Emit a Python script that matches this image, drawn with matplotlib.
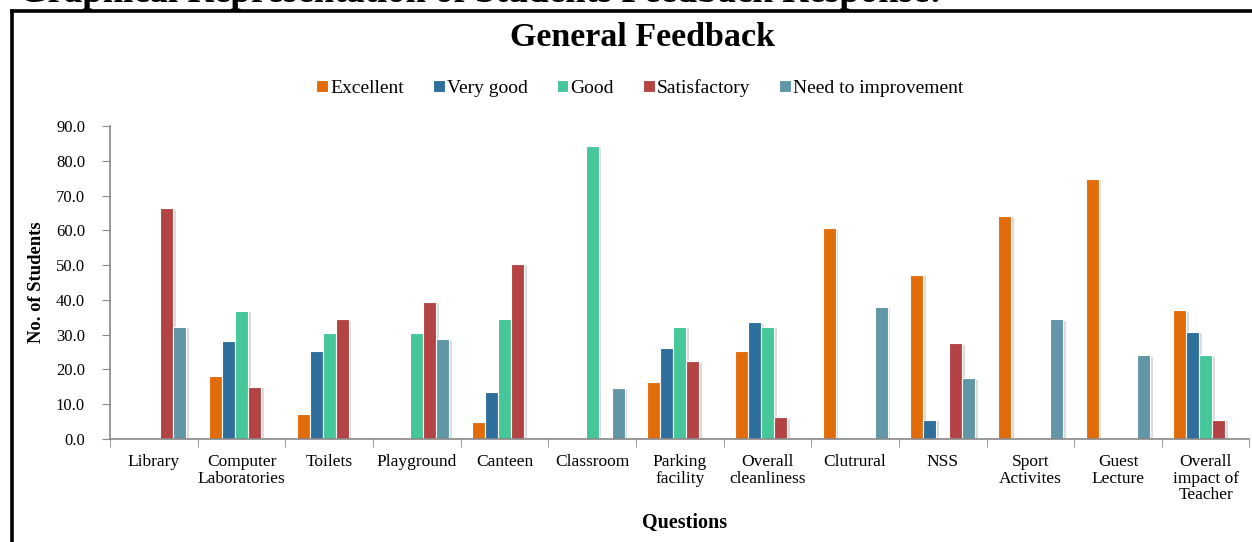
import matplotlib.pyplot as plt
import matplotlib.patheffects as pe
from matplotlib.lines import Line2D
from matplotlib.patches import Patch
import numpy as np

plt.rcParams['font.family'] = ['Liberation Serif', 'DejaVu Serif']

questions = ["Library", "Computer\nLaboratories", "Toilets", "Playground", "Canteen",
             "Classroom", "Parking\nfacility", "Overall\ncleanliness", "Clutrural", "NSS",
             "Sport\nActivites", "Guest\nLecture", "Overall\nimpact of\nTeacher"]
series = ["Excellent", "Very good", "Good", "Satisfactory", "Need to improvement"]

excellent = [0, 18.0, 7.1, 0, 5.0, 0, 16.5, 25.4, 60.6, 47.3, 64.2, 74.7, 37.0]
very_good = [0, 28.3, 25.4, 0, 13.6, 0, 26.1, 33.6, 0, 5.5, 0, 0, 30.8]
good = [0, 36.9, 30.4, 30.4, 34.4, 84.2, 32.3, 32.3, 0, 0, 0, 0, 24.1]
satisfactory = [66.3, 15.0, 34.4, 39.5, 50.2, 0, 22.4, 6.2, 0, 27.5, 0, 0, 5.5]
need_improve = [32.3, 0, 0, 28.7, 0, 14.6, 0, 0, 38.0, 17.5, 34.4, 24.1, 0]

values = [excellent, very_good, good, satisfactory, need_improve]
colors = ["#E36C0A", "#2E6F9E", "#45C79A", "#B44444", "#6096A6"]

fig = plt.figure(figsize=(12.52, 5.42), dpi=100)
ax = fig.add_axes([0.0879, 0.190, 0.9101, 0.5775])

x = np.arange(len(questions))
w = 0.148
shadow = [pe.SimplePatchShadow(offset=(2, -1), shadow_rgbFace="#999999", alpha=0.35), pe.Normal()]
for i, (vals, c) in enumerate(zip(values, colors)):
    bars = ax.bar(x + (i - 2) * w, vals, width=w, color=c, edgecolor="white", linewidth=0.8)
    for b in bars:
        if b.get_height() > 0:
            b.set_path_effects(shadow)
        else:
            b.set_visible(False)

ax.set_xlim(-0.5, len(questions) - 0.5)
ax.set_ylim(0, 90)
ax.set_yticks(np.arange(0, 91, 10))
ax.set_yticklabels([f"{v:.1f}" for v in np.arange(0, 91, 10)], fontsize=12)
ax.set_xticks(x)
ax.set_xticklabels(questions, fontsize=12.5, linespacing=1.05)
ax.set_xticks(np.arange(-0.5, len(questions)), minor=True)
ax.tick_params(axis="x", which="major", length=0, pad=11)
ax.tick_params(axis="x", which="minor", length=6, color="#888888")
ax.tick_params(axis="y", length=6, color="#888888", pad=12)
for s in ["top", "right"]:
    ax.spines[s].set_visible(False)
for s in ["left", "bottom"]:
    ax.spines[s].set_color("#888888")
    ax.spines[s].set_linewidth(1.2)

ax.set_ylabel("No. of Students", fontsize=13.4, fontweight="bold", labelpad=8)
fig.text(0.547, 1 - 523 / 542, "Questions", fontsize=14.5, fontweight="bold", ha="center", va="center")

fig.text(0.5135, 1 - 38 / 542, "General Feedback", fontsize=24.5, fontweight="bold", ha="center", va="center")
handles = [Patch(facecolor=c, edgecolor="white", linewidth=0.8) for c in colors]
ax.legend(handles, series, loc="center", bbox_to_anchor=(0.511, 1 - 88 / 542), bbox_transform=fig.transFigure,
          ncol=5, frameon=False, fontsize=14, handlelength=0.6, handleheight=0.6,
          handletextpad=0.1, columnspacing=1.5)

# clipped heading of the page and the frame round the chart
fig.text(0.015, 1 - 1.5 / 542, "Graphical Representation of Students Feedback Response:",
         fontsize=26.5, fontweight="bold", ha="left", va="baseline")
fig.add_artist(Line2D([12 / 1252, 12 / 1252], [0, 1 - 11 / 542], color="black", lw=2.6,
                      transform=fig.transFigure))
fig.add_artist(Line2D([12 / 1252, 1], [1 - 11 / 542, 1 - 11 / 542], color="black", lw=2.6,
                      transform=fig.transFigure))

fig.savefig("out.png", dpi=100)
